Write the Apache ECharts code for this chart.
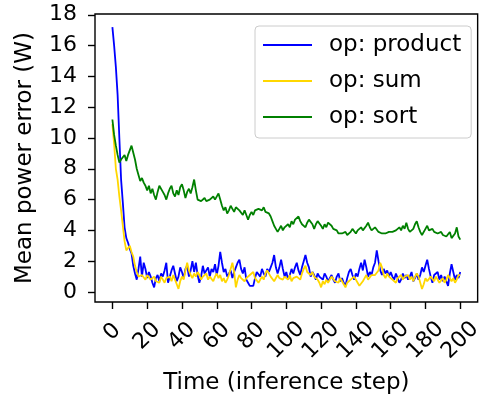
<!DOCTYPE html>
<html>
<head>
<meta charset="utf-8">
<script src="https://cdn.jsdelivr.net/npm/echarts@6/dist/echarts.min.js"></script>
<style>
  html, body { margin: 0; padding: 0; background: #fff; }
  #chart { width: 485px; height: 400px; }
</style>
</head>
<body>
<div id="chart"></div>
<script>
// x ticks / y ticks
const xTicks = [0, 20, 40, 60, 80, 100, 120, 140, 160, 180, 200]
const yTicks = [0, 2, 4, 6, 8, 10, 12, 14, 16, 18]

// op: product (blue), one value per inference step 0..200
const product = [
  17.2, 16.0, 14.6, 12.8, 10.0, 7.3, 5.8, 4.2, 3.5, 3.2,
  2.8, 2.5, 1.7, 1.2, 0.8, 1.5, 2.3, 1.0, 1.9, 1.5,
  0.9, 1.3, 1.0, 0.6, 0.3, 0.9, 1.1, 0.7, 1.2, 1.0,
  1.4, 1.9, 0.6, 1.0, 1.4, 1.7, 1.2, 0.7, 1.0, 1.6,
  1.3, 0.9, 1.5, 1.7, 1.0, 1.4, 2.0, 1.3, 1.9, 1.1,
  0.6, 1.0, 1.7, 1.2, 1.4, 1.6, 1.0, 1.5, 1.3, 1.8,
  1.1, 1.7, 2.6, 1.9, 1.3, 1.5, 1.0, 1.1, 1.4, 0.9,
  1.3, 1.6, 1.9, 2.1, 1.5, 1.2, 1.6, 0.8, 0.6, 0.4,
  0.5, 0.4, 0.9, 1.3, 1.4, 1.0, 1.5, 1.2, 1.0, 1.5,
  1.3, 1.6, 1.9, 2.4, 1.6, 1.2, 1.6, 2.1, 1.5, 1.0,
  1.3, 0.8, 1.1, 1.5, 1.2, 1.6, 1.9, 1.4, 1.1, 1.6,
  2.0, 2.4, 1.9, 1.6, 1.0, 1.3, 1.1, 0.8, 1.2, 1.0,
  0.9, 0.8, 1.2, 1.0, 0.7, 0.9, 1.1, 0.8, 0.6, 1.0,
  1.2, 0.7, 0.9, 0.6, 0.4, 0.9, 1.3, 1.5, 1.1, 0.8,
  1.2, 1.0, 1.5, 1.9, 1.4, 2.1, 1.6, 1.0, 1.3, 1.1,
  1.6, 1.9, 2.7, 2.0, 1.4, 1.1, 1.5, 1.2, 1.4, 1.0,
  1.3, 1.0, 0.8, 1.2, 0.9, 0.6, 0.8, 1.2, 0.9, 1.1,
  0.8, 1.0, 1.3, 0.7, 0.9, 1.2, 0.8, 1.1, 1.6, 1.3,
  1.7, 2.1, 1.5, 1.0, 0.6, 1.1, 1.0, 1.3, 0.8, 1.1,
  0.7, 1.0, 0.9, 0.4, 1.2, 1.8, 1.3, 0.8, 1.1, 0.9,
  1.3
]

// op: sum (gold)
const sum = [
  10.9, 9.6, 8.0, 7.3, 6.2, 5.3, 4.3, 3.3, 2.7, 2.8,
  3.0, 2.6, 2.3, 1.7, 1.3, 1.0, 0.9, 1.1, 1.0, 0.8,
  1.1, 1.0, 0.8, 0.9, 1.0, 0.7, 0.8, 0.6, 1.0, 0.8,
  0.6, 0.9, 0.8, 1.0, 0.7, 1.1, 0.8, 0.5, 0.2, 0.7,
  1.0, 0.8, 1.4, 1.9, 1.4, 1.1, 0.9, 1.2, 1.0, 1.3,
  1.1, 0.8, 1.0, 0.9, 1.2, 0.8, 1.0, 1.1, 0.7, 1.0,
  1.2, 0.9, 1.1, 0.7, 0.9, 0.6, 0.8, 1.1, 1.5, 1.9,
  1.3, 0.3, 0.8, 1.1, 0.9, 1.0, 0.7, 0.9, 0.8, 1.1,
  1.0, 1.3, 0.9, 0.8, 0.6, 0.7, 1.0, 0.8, 1.2, 1.4,
  1.5, 1.0, 0.9, 0.7, 0.8, 1.1, 0.9, 1.0, 0.8, 1.0,
  0.9, 0.8, 1.1, 0.7, 0.9, 0.8, 1.0, 0.9, 0.8, 1.2,
  1.5, 1.7, 1.3, 1.2, 1.1, 1.3, 1.0, 1.1, 0.8, 0.6,
  0.3, 0.7, 0.5, 0.8, 0.6, 0.8, 1.0, 0.9, 0.7, 0.8,
  0.6, 0.9, 0.8, 0.5, 0.3, 0.6, 0.5, 0.8, 0.7, 1.0,
  0.9, 0.6, 0.4, 0.4, 0.7, 0.9, 1.1, 0.8, 0.9, 1.1,
  1.0, 1.1, 1.2, 1.4, 1.9, 1.6, 1.1, 0.9, 1.2, 1.0,
  1.1, 0.8, 0.9, 0.6, 0.9, 1.0, 1.1, 0.8, 1.0, 0.9,
  1.1, 0.8, 1.0, 0.7, 1.0, 1.2, 1.0, 0.6, 0.2, 0.5,
  0.9, 0.7, 0.8, 1.0, 0.9, 0.7, 1.0, 0.9, 0.6, 0.7,
  0.9, 0.6, 0.8, 1.1, 1.0, 0.7, 0.9, 0.6, 0.8, 1.1,
  1.1
]

// op: sort (green)
const sort = [
  11.2, 10.2, 9.5, 8.9, 8.4, 8.6, 8.6, 8.9, 8.5, 8.9,
  9.0, 9.5, 9.6, 8.6, 8.0, 7.6, 7.2, 7.4, 7.1, 6.9,
  6.6, 6.9, 6.4, 6.7, 6.3, 6.0, 6.5, 6.9, 7.0, 6.5,
  6.3, 6.0, 6.4, 6.7, 6.9, 6.4, 6.2, 6.6, 6.3, 6.8,
  7.0, 6.6, 6.1, 6.5, 6.7, 6.4, 6.8, 7.3, 6.6, 6.0,
  6.1, 5.9, 5.8, 6.1, 5.9, 5.8, 6.0, 6.0, 6.2, 6.0,
  6.1, 6.4, 6.0, 5.6, 5.3, 5.5, 5.1, 5.3, 5.6, 5.4,
  5.2, 5.5, 5.6, 5.3, 5.2, 5.0, 5.3, 5.0, 4.7, 5.0,
  5.2, 5.0, 5.3, 5.2, 5.4, 5.4, 5.3, 5.5, 5.2, 5.3,
  5.1, 4.9, 4.6, 4.3, 4.1, 3.9, 4.1, 4.3, 4.0, 4.2,
  4.1, 4.4, 4.2, 4.6, 4.4, 4.7, 4.6, 4.9, 4.6, 4.4,
  4.3, 4.2, 4.5, 4.7, 4.8, 4.4, 4.1, 4.4, 4.6, 4.7,
  4.3, 4.1, 4.4, 4.2, 4.5, 4.5, 4.3, 4.1, 4.0, 4.0,
  3.8, 3.9, 3.8, 3.7, 3.9, 3.7, 3.6, 3.9, 4.1, 4.2,
  3.8, 4.0, 3.9, 4.2, 4.0, 3.9, 4.3, 4.5, 4.2, 4.0,
  3.9, 4.2, 4.1, 3.9, 4.0, 3.8, 3.9, 3.8, 3.9, 3.9,
  3.9, 3.9, 3.9, 4.0, 3.9, 4.2, 4.0, 4.3, 4.1, 4.5,
  4.1, 3.9, 4.0, 4.1, 4.4, 4.6, 4.2, 3.9, 3.7, 3.8,
  4.1, 4.3, 4.0, 3.9, 4.1, 3.9, 3.8, 3.8, 3.7, 3.9,
  3.7, 3.8, 3.6, 3.7, 3.9, 3.5, 3.6, 3.8, 4.2, 3.6,
  3.4
]

const font = 'DejaVu Sans'
const toPoints = arr => arr.map((v, i) => [i, v])

let myChart = echarts.init(document.getElementById('chart'), null, { renderer: 'canvas' })
myChart.setOption({
    animation: false,
    backgroundColor: '#fff',
    grid: {
        left: 95,
        top: 14,
        right: 2,
        bottom: 97,
        show: true,
        borderColor: '#000',
        borderWidth: 1.4,
        backgroundColor: 'transparent'
    },
    legend: {
        orient: 'vertical',
        left: 255,
        top: 26,
        padding: [6, 10, 8, 8],
        itemGap: 10,
        itemWidth: 49,
        itemHeight: 2,
        icon: 'rect',
        backgroundColor: 'rgba(255,255,255,0.8)',
        borderColor: '#cccccc',
        borderWidth: 1,
        borderRadius: 4,
        textStyle: {
            fontFamily: font,
            fontSize: 23,
            lineHeight: 26,
            color: '#000',
            padding: [0, 0, 0, 12]
        },
        data: ['op: product', 'op: sum', 'op: sort']
    },
    xAxis: {
        type: 'value',
        min: -10,
        max: 210,
        name: 'Time (inference step)',
        nameLocation: 'middle',
        nameGap: 70,
        nameTextStyle: { fontFamily: font, fontSize: 23, color: '#000' },
        axisLine: { show: false, onZero: false },
        axisTick: {
            show: true,
            length: 7,
            customValues: xTicks,
            lineStyle: { color: '#000', width: 1.4 }
        },
        axisLabel: {
            customValues: xTicks,
            rotate: 45,
            margin: 30,
            align: 'center',
            verticalAlign: 'middle',
            fontFamily: font,
            fontSize: 22,
            color: '#000',
            formatter: v => v < 10 ? '{a|' + v + '}' : (v < 100 ? '{b|' + v + '}' : '{c|' + v + '}'),
            rich: {
                a: { fontFamily: font, fontSize: 22, color: '#000' },
                b: { fontFamily: font, fontSize: 22, color: '#000', padding: [6, 6, 0, 0] },
                c: { fontFamily: font, fontSize: 22, color: '#000', padding: [12, 12, 0, 0] }
            }
        },
        splitLine: { show: false }
    },
    yAxis: {
        type: 'value',
        min: -0.65,
        max: 18.05,
        name: 'Mean power error (W)',
        nameLocation: 'middle',
        nameGap: 58,
        nameTextStyle: { fontFamily: font, fontSize: 23, color: '#000' },
        axisLine: { show: false, onZero: false },
        axisTick: {
            show: true,
            length: 7,
            customValues: yTicks,
            lineStyle: { color: '#000', width: 1.4 }
        },
        axisLabel: {
            customValues: yTicks,
            margin: 18,
            fontFamily: font,
            fontSize: 22,
            color: '#000'
        },
        splitLine: { show: false }
    },
    series: [
        {
            name: 'op: product',
            type: 'line',
            symbol: 'none',
            data: toPoints(product),
            itemStyle: { color: '#0000ff' },
            lineStyle: { color: '#0000ff', width: 1.8 }
        },
        {
            name: 'op: sum',
            type: 'line',
            symbol: 'none',
            data: toPoints(sum),
            itemStyle: { color: '#ffd700' },
            lineStyle: { color: '#ffd700', width: 1.8 }
        },
        {
            name: 'op: sort',
            type: 'line',
            symbol: 'none',
            data: toPoints(sort),
            itemStyle: { color: '#008000' },
            lineStyle: { color: '#008000', width: 1.8 }
        }
    ]
})
window.addEventListener('resize', function () {
    myChart.resize()
})
</script>
</body>
</html>
